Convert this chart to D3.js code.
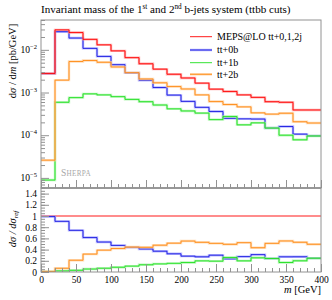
<!DOCTYPE html>
<html><head><meta charset="utf-8">
<script src="https://cdn.jsdelivr.net/npm/d3@7"></script>
<style>
body{margin:0;background:#fff}
svg{display:block}
text{font-family:"Liberation Serif","DejaVu Serif",serif;fill:#000}
</style>
</head><body>
<svg id="c" width="332" height="300"></svg>
<script>
// ---- data ----
const binEdges = [0,20,40,60,80,100,120,140,160,180,200,220,240,260,280,300,320,340,360,380,400];
const total = [2.8e-3,0.0294,0.0254,0.0176,0.0131,0.00946,0.00656,0.00472,0.00353,0.00268,0.00219,0.00166,0.00120,0.00106,0.00088,0.00077,0.00061,0.00059,0.00039,0.00039];
const tt0b  = [2.77e-3,0.0266,0.0189,0.01082,0.00701,0.00449,0.00289,0.00194,0.00131,0.000871,0.000620,0.000450,0.000360,0.000249,0.000242,0.000239,0.000147,0.000160,0.000106,0.0000963];
const tt1b  = [8.9e-6,5.9e-4,7.6e-4,9.3e-4,8.8e-4,8.0e-4,6.9e-4,6.1e-4,5.1e-4,4.15e-4,3.7e-4,3.3e-4,2.32e-4,2.75e-4,1.75e-4,1.95e-4,1.47e-4,1.0e-4,7.8e-5,9.6e-5];
const tt2b  = [2.6e-5,1.95e-3,5.33e-3,5.63e-3,5.11e-3,3.97e-3,2.92e-3,2.08e-3,1.69e-3,1.38e-3,1.21e-3,8.8e-4,6.14e-4,5.24e-4,4.61e-4,3.34e-4,3.12e-4,3.27e-4,2.07e-4,1.93e-4];
const seriesNames = ["MEPS@LO tt+0,1,2j","tt+0b","tt+1b","tt+2b"];
const xTicks = [0,50,100,150,200,250,300,350,400];
const logTicks = [1e-5,1e-4,1e-3,1e-2];
const logTickExp = ["\u22125","\u22124","\u22123","\u22122"];
const ratioTicks = [0,0.2,0.4,0.6,0.8,1,1.2,1.4];
const ratioTickLabels = ["0","0.2","0.4","0.6","0.8","1","1.2","1.4"];
const titleText = ["Invariant mass of the 1","st"," and 2","nd"," b-jets system (ttbb cuts)"];

// ---- layout ----
const L=41, R=321, T=20, M=188, B=272;
const frameCol="#929292";
const dark = ["#ff0000","#1818e0","#1ee01e","#ff8a14"];
const light= ["#ff8c8c","#9a9aff","#9cf29c","#ffcc96"];

const svg=d3.select("#c");
const x=d3.scaleLinear().domain([0,400]).range([L,R]);
const y=d3.scaleLog().domain([5.8e-6,0.05]).range([M,T]);
const yr=d3.scaleLinear().domain([0,1.5]).range([B,M]);

const series=[total,tt0b,tt1b,tt2b];
const ratios=series.map(s=>s.map((v,i)=>v/total[i]));

function pts(vals){const p=vals.map((v,i)=>[binEdges[i],v]);p.push([binEdges[binEdges.length-1],vals[vals.length-1]]);return p;}

svg.append("defs").append("clipPath").attr("id","cm").append("rect").attr("x",L).attr("y",T).attr("width",R-L).attr("height",M-T);
svg.select("defs").append("clipPath").attr("id","cr").append("rect").attr("x",L).attr("y",M).attr("width",R-L).attr("height",B-M);

// main panel lines
const gm=svg.append("g").attr("clip-path","url(#cm)");
const lm=d3.line().x(d=>x(d[0])).y(d=>y(d[1])).curve(d3.curveStepAfter);
[1,2,3,0].forEach(k=>{
  gm.append("path").attr("d",lm(pts(series[k]))).attr("fill","none").attr("stroke",light[k]).attr("stroke-width",2.4).attr("opacity",0.7);
  gm.append("path").attr("d",lm(pts(series[k]))).attr("fill","none").attr("stroke",dark[k]).attr("stroke-width",0.9);
});

// ratio panel lines
const gr=svg.append("g").attr("clip-path","url(#cr)");
const lr=d3.line().x(d=>x(d[0])).y(d=>yr(d[1])).curve(d3.curveStepAfter);
gr.append("path").attr("d",lr(pts(ratios[0]))).attr("fill","none").attr("stroke",light[0]).attr("stroke-width",2.2);
[1,2,3].forEach(k=>{
  gr.append("path").attr("d",lr(pts(ratios[k]))).attr("fill","none").attr("stroke",light[k]).attr("stroke-width",2.4).attr("opacity",0.7);
  gr.append("path").attr("d",lr(pts(ratios[k]))).attr("fill","none").attr("stroke",dark[k]).attr("stroke-width",0.9);
});

// axes helpers
function styleAxis(g){g.select(".domain").remove();g.selectAll("line").attr("stroke",frameCol);g.selectAll("text").attr("font-family","Liberation Serif").attr("font-size",9.5).attr("fill","#000");}
const xMinor=d3.range(0,401,10);
// main x ticks
svg.append("g").attr("transform",`translate(0,${M})`).call(d3.axisBottom(x).tickValues(xMinor).tickSizeInner(-4).tickSizeOuter(0).tickFormat("")).call(styleAxis);
svg.append("g").attr("transform",`translate(0,${M})`).call(d3.axisBottom(x).tickValues(xTicks).tickSizeInner(-8).tickSizeOuter(0).tickFormat("")).call(styleAxis);
// ratio x ticks
svg.append("g").attr("transform",`translate(0,${B})`).call(d3.axisBottom(x).tickValues(xMinor).tickSizeInner(-4).tickSizeOuter(0).tickFormat("")).call(styleAxis);
svg.append("g").attr("transform",`translate(0,${B})`).call(d3.axisBottom(x).tickValues(xTicks).tickSizeInner(-8).tickSizeOuter(0).tickPadding(4).tickFormat(d3.format("d"))).call(styleAxis);

// main y ticks
const logMinor=[];
for(let e=-6;e<=-1;e++){for(let m=2;m<=9;m++){const v=m*Math.pow(10,e);if(v>=5.8e-6&&v<=0.05)logMinor.push(v);}}
svg.append("g").attr("transform",`translate(${L},0)`).call(d3.axisLeft(y).tickValues(logMinor).tickSizeInner(-4).tickSizeOuter(0).tickFormat("")).call(styleAxis);
svg.append("g").attr("transform",`translate(${L},0)`).call(d3.axisLeft(y).tickValues(logTicks).tickSizeInner(-8).tickSizeOuter(0).tickFormat("")).call(styleAxis);
logTicks.forEach((v,i)=>{
  const t=svg.append("text").attr("x",37).attr("y",y(v)+3).attr("text-anchor","end").attr("font-size",9.5);
  t.append("tspan").text("10");
  t.append("tspan").attr("dy",-4).attr("font-size",6.5).text(logTickExp[i]);
});
// ratio y ticks
const rMinor=d3.range(0,1.501,0.05);
svg.append("g").attr("transform",`translate(${L},0)`).call(d3.axisLeft(yr).tickValues(rMinor).tickSizeInner(-4).tickSizeOuter(0).tickFormat("")).call(styleAxis);
svg.append("g").attr("transform",`translate(${L},0)`).call(d3.axisLeft(yr).tickValues(ratioTicks).tickSizeInner(-8).tickSizeOuter(0).tickPadding(4).tickFormat((d,i)=>ratioTickLabels[i])).call(styleAxis);

// frames
svg.append("rect").attr("x",L).attr("y",T).attr("width",R-L).attr("height",M-T).attr("fill","none").attr("stroke",frameCol).attr("stroke-width",1);
svg.append("rect").attr("x",L).attr("y",M).attr("width",R-L).attr("height",B-M).attr("fill","none").attr("stroke",frameCol).attr("stroke-width",1);
svg.append("line").attr("x1",L).attr("x2",R).attr("y1",M).attr("y2",M).attr("stroke",frameCol).attr("stroke-width",1.6);

// title
const tt=svg.append("text").attr("x",L).attr("y",13).attr("font-size",10);
titleText.forEach((s,i)=>{
  const sp=tt.append("tspan").text(s);
  if(i===1||i===3){sp.attr("font-size",6.5).attr("dy",-4);}
  else if(i===2||i===4){sp.attr("dy",4);}
});
(function(){const w=tt.node().getComputedTextLength();const target=250;const f=10*target/w;tt.attr("font-size",f);tt.selectAll("tspan").filter((d,i)=>i===1||i===3).attr("font-size",f*0.65);})();

// legend
const legY=[36.7,50,62.7,74.3];
[0,1,2,3].forEach(k=>{
  if(k===1||k===3) svg.append("line").attr("x1",190).attr("x2",212).attr("y1",legY[k]).attr("y2",legY[k]).attr("stroke",light[k]).attr("stroke-width",2.4).attr("opacity",0.8);
  svg.append("line").attr("x1",190).attr("x2",212).attr("y1",legY[k]).attr("y2",legY[k]).attr("stroke",dark[k]).attr("stroke-width",0.9);
  svg.append("text").attr("x",217).attr("y",legY[k]+3.3).attr("font-size",10).text(seriesNames[k]);
});

// Sherpa
const sh=svg.append("text").attr("x",61).attr("y",176).attr("font-size",9.5).style("fill","#a8a8a8").attr("letter-spacing",0.3);
sh.append("tspan").text("S");
sh.append("tspan").attr("font-size",7.2).text("HERPA");

// y labels
const yl=svg.append("text").attr("transform","translate(16,61) rotate(-90)").attr("text-anchor","middle").attr("font-size",10.5);
yl.append("tspan").text("d");
yl.append("tspan").attr("font-style","italic").text("\u03c3");
yl.append("tspan").text(" / d");
yl.append("tspan").attr("font-style","italic").text("m");
yl.append("tspan").text(" [pb/GeV]");
const rl=svg.append("text").attr("transform","translate(16,229) rotate(-90)").attr("text-anchor","middle").attr("font-size",10.5).attr("font-style","italic");
rl.append("tspan").text("d\u03c3 / d\u03c3");
rl.append("tspan").attr("font-size",7).attr("dy",2).text("ref");

// x label
const xl=svg.append("text").attr("x",R).attr("y",293).attr("text-anchor","end").attr("font-size",10.5);
xl.append("tspan").attr("font-style","italic").text("m");
xl.append("tspan").text(" [GeV]");
</script>
</body></html>
